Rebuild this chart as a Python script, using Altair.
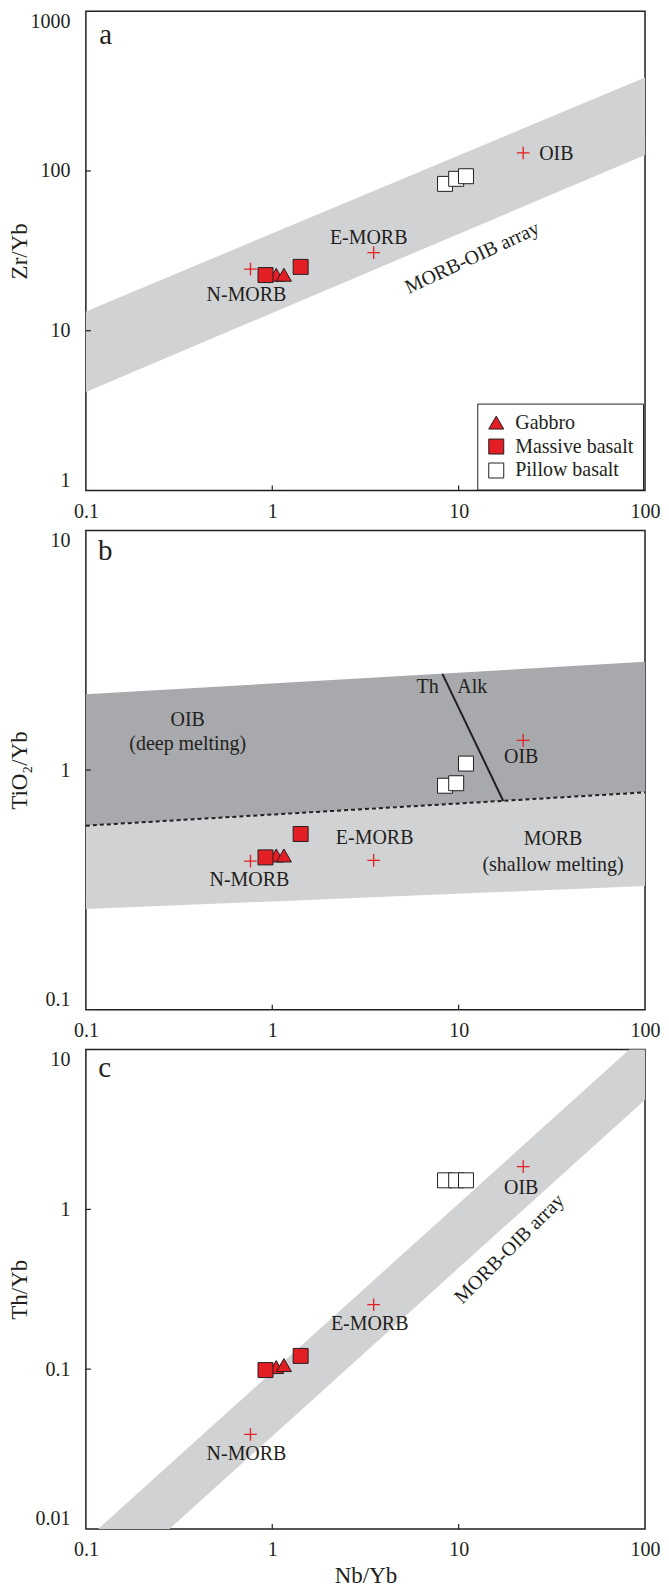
import altair as alt
import pandas as pd

FONT = "Liberation Serif"
INK = "#231f20"
RED = "#e31e24"
LIGHT = "#d1d2d4"
DARK = "#a7a9ac"
W, H = 560, 480

# ---------------- data ----------------
groups = ["Gabbro", "Massive basalt", "Pillow basalt"]
group_fill = [RED, RED, "#ffffff"]
group_shape = ["triangle-up", "square", "square"]
group_stroke = [INK, INK, INK]

sample_group = ["Gabbro", "Gabbro", "Massive basalt", "Massive basalt",
                "Pillow basalt", "Pillow basalt", "Pillow basalt"]
sample_nb = [1.05, 1.155, 0.92, 1.42, 8.45, 9.7, 10.95]
sample_zr = [22.4, 22.4, 22.3, 25.1, 83.0, 89.3, 92.7]
sample_ti = [0.44, 0.44, 0.432, 0.541, 0.86, 0.881, 1.064]
sample_th = [0.103, 0.106, 0.0986, 0.121, 1.52, 1.52, 1.52]

ref_name = ["N-MORB", "E-MORB", "OIB"]
ref_nb = [0.764, 3.50, 22.2]
ref_zr = [24.3, 30.8, 129.6]
ref_ti = [0.417, 0.42, 1.33]
ref_th = [0.039, 0.253, 1.85]

band_x = [0.1, 100]
zr_band_hi = [13.2, 385]
zr_band_lo = [4.14, 126]
ti_band_top = [2.07, 2.83]
ti_band_mid = [0.586, 0.807]
ti_band_bot = [0.263, 0.328]
thalk_nb = [8.18, 17.36]
thalk_ti = [2.52, 0.743]
th_band_x = [0.1165, 0.281, 82.4, 100]
th_band_hi = [0.01, 0.0253, 10, 10]
th_band_lo = [0.01, 0.01, 3.96, 4.85]

x_ticks = [0.1, 1, 10, 100]
zr_ticks = [1, 10, 100, 1000]
ti_ticks = [0.1, 1, 10]
th_ticks = [0.01, 0.1, 1, 10]
x_inner = [1, 10]
zr_inner = [10, 100]
ti_inner = [1]
th_inner = [0.1, 1]

ti_note_text = ["OIB", "(deep melting)", "MORB", "(shallow melting)", "Th", "Alk"]
ti_note_nb = [0.352, 0.352, 32.1, 32.1, 6.82, 11.84]
ti_note_ti = [1.625, 1.28, 0.5136, 0.401, 2.23, 2.23]

letter_text = ["a", "b", "c"]
letter_nb = [0.118, 0.116, 0.1165]
letter_val = [621, 7.52, 6.71]

zr_array = {"text": ["MORB-OIB array"], "nb": [11.84], "zr": [28.6]}
th_array = {"text": ["MORB-OIB array"], "nb": [18.75], "th": [0.5655]}

samples = pd.DataFrame({"group": sample_group, "nb": sample_nb, "zr": sample_zr,
                        "ti": sample_ti, "th": sample_th})
refs = pd.DataFrame({"name": ref_name, "nb": ref_nb, "zr": ref_zr, "ti": ref_ti, "th": ref_th})

# ---------------- helpers ----------------
xs = alt.Scale(type="log", domain=[0.1, 100], nice=False)
CROSS = "M-1,0H1M0,-1V1"


def x_axis(title=None):
    kw = dict(values=x_ticks, format="~g", grid=False, ticks=False, domain=False,
              labelFont=FONT, labelFontSize=20, labelColor=INK, labelPadding=11,
              labelFlush=False, title=title)
    if title:
        kw.update(titleFont=FONT, titleFontSize=23, titleFontWeight="normal",
                  titleColor=INK, titleY=47, titleBaseline="middle")
    return alt.Axis(**kw)


def y_axis(title, values):
    return alt.Axis(title=title, values=values, format="~g", grid=False, ticks=False,
                    domain=False, labelFont=FONT, labelFontSize=20, labelColor=INK,
                    labelPadding=16, labelFlush=True, labelFlushOffset=0,
                    titleFont=FONT, titleFontSize=23, titleFontWeight="normal",
                    titleColor=INK, titleX=-66, titleY=H / 2, titleBaseline="middle",
                    titleAngle=270)


def panel(yfield, ydomain, ytitle, yvalues, yinner, letter_idx, ref_offsets,
          show_legend, xtitle=None, extra_layers_fn=None):
    ys = alt.Scale(type="log", domain=ydomain, nice=False)
    xa = x_axis(xtitle)
    ya = y_axis(ytitle, yvalues)

    def X(f):
        return alt.X(f"{f}:Q", scale=xs, axis=xa)

    def Y(f):
        return alt.Y(f"{f}:Q", scale=ys, axis=ya)

    layers = []
    if extra_layers_fn is not None:
        layers += extra_layers_fn(X, Y)

    # inward ticks
    layers.append(alt.Chart(pd.DataFrame({"v": x_inner})).mark_rule(color=INK, strokeWidth=1.2)
                  .encode(x=X("v"), y=alt.value(H), y2=alt.value(H - 5)))
    layers.append(alt.Chart(pd.DataFrame({"v": yinner})).mark_rule(color=INK, strokeWidth=1.2)
                  .encode(y=Y("v"), x=alt.value(0), x2=alt.value(5)))

    # reference compositions (red crosses)
    layers.append(alt.Chart(refs).mark_point(shape=CROSS, size=160, filled=False,
                                             stroke=RED, strokeWidth=1.3, opacity=1)
                  .encode(x=X("nb"), y=Y(yfield)))
    for name, dx, dy, align in ref_offsets:
        layers.append(alt.Chart(refs).transform_filter(alt.datum.name == name)
                      .mark_text(font=FONT, fontSize=20, color=INK, dx=dx, dy=dy,
                                 align=align, baseline="middle")
                      .encode(x=X("nb"), y=Y(yfield), text="name:N"))

    # samples
    leg = None
    if show_legend:
        leg = alt.Legend(title=None, orient="none", legendX=392, legendY=393,
                         strokeColor=INK, fillColor="#ffffff", padding=9, rowPadding=4,
                         labelOffset=9, labelFont=FONT, labelFontSize=20, labelColor=INK,
                         symbolSize=225, symbolStrokeWidth=1)
    layers.append(alt.Chart(samples).mark_point(filled=True, size=225,
                                                strokeWidth=1, opacity=1)
                  .encode(x=X("nb"), y=Y(yfield),
                          shape=alt.Shape("group:N", scale=alt.Scale(domain=groups, range=group_shape),
                                          legend=leg),
                          fill=alt.Fill("group:N", scale=alt.Scale(domain=groups, range=group_fill),
                                        legend=leg),
                          stroke=alt.Stroke("group:N", scale=alt.Scale(domain=groups, range=group_stroke),
                                            legend=leg)))

    # panel letter
    ldf = pd.DataFrame({"t": [letter_text[letter_idx]], "nb": [letter_nb[letter_idx]],
                        yfield: [letter_val[letter_idx]]})
    layers.append(alt.Chart(ldf).mark_text(font=FONT, fontSize=29, color=INK, align="left",
                                           baseline="alphabetic")
                  .encode(x=X("nb"), y=Y(yfield), text="t:N"))

    return alt.layer(*layers).properties(width=W, height=H)


def zr_extra(X, Y):
    band = pd.DataFrame({"nb": band_x, "hi": zr_band_hi, "lo": zr_band_lo})
    arr = pd.DataFrame(zr_array)
    return [
        alt.Chart(band).mark_area(color=LIGHT, opacity=1)
        .encode(x=X("nb"), y=Y("hi"), y2="lo:Q"),
        alt.Chart(arr).mark_text(font=FONT, fontSize=20, color=INK, angle=335,
                                 align="center", baseline="middle")
        .encode(x=X("nb"), y=Y("zr"), text="text:N"),
    ]


def ti_extra(X, Y):
    band = pd.DataFrame({"nb": band_x, "top": ti_band_top, "mid": ti_band_mid,
                         "bot": ti_band_bot})
    th = pd.DataFrame({"nb": thalk_nb, "ti": thalk_ti})
    notes = pd.DataFrame({"text": ti_note_text, "nb": ti_note_nb, "ti": ti_note_ti})
    return [
        alt.Chart(band).mark_area(color=DARK, opacity=1)
        .encode(x=X("nb"), y=Y("top"), y2="mid:Q"),
        alt.Chart(band).mark_area(color=LIGHT, opacity=1)
        .encode(x=X("nb"), y=Y("mid"), y2="bot:Q"),
        alt.Chart(band).mark_line(color=INK, strokeWidth=2, strokeDash=[4, 3])
        .encode(x=X("nb"), y=Y("mid")),
        alt.Chart(th).mark_line(color=INK, strokeWidth=2)
        .encode(x=X("nb"), y=Y("ti")),
        alt.Chart(notes).mark_text(font=FONT, fontSize=20, color=INK, align="center",
                                   baseline="middle")
        .encode(x=X("nb"), y=Y("ti"), text="text:N"),
    ]


def th_extra(X, Y):
    band = pd.DataFrame({"nb": th_band_x, "hi": th_band_hi, "lo": th_band_lo})
    arr = pd.DataFrame(th_array)
    return [
        alt.Chart(band).mark_area(color=LIGHT, opacity=1)
        .encode(x=X("nb"), y=Y("hi"), y2="lo:Q"),
        alt.Chart(arr).mark_text(font=FONT, fontSize=20, color=INK, angle=315,
                                 align="center", baseline="middle")
        .encode(x=X("nb"), y=Y("th"), text="text:N"),
    ]


pa = panel("zr", [1, 1000], "Zr/Yb", zr_ticks, zr_inner, 0,
           [("N-MORB", -4, 26, "center"), ("E-MORB", -5, -15, "center"), ("OIB", 16, 1, "left")],
           True, extra_layers_fn=zr_extra)
pb = panel("ti", [0.1, 10], "TiO₂/Yb", ti_ticks, ti_inner, 1,
           [("N-MORB", -1, 19, "center"), ("E-MORB", 1, -22, "center"), ("OIB", -2, 17, "center")],
           False, extra_layers_fn=ti_extra)
pc = panel("th", [0.01, 10], "Th/Yb", th_ticks, th_inner, 2,
           [("N-MORB", -4, 20, "center"), ("E-MORB", -4, 19, "center"), ("OIB", -2, 21, "center")],
           False, xtitle="Nb/Yb", extra_layers_fn=th_extra)

chart = (
    alt.vconcat(pa, pb, pc, spacing=40, bounds="flush")
    .resolve_scale(x="independent", y="independent", shape="independent",
                   fill="independent", stroke="independent")
    .resolve_legend(shape="independent", fill="independent", stroke="independent")
    .properties(padding={"left": 0, "top": 1, "right": 0, "bottom": -3})
    .configure_view(stroke=INK, strokeWidth=1.5)
)

chart.save("out.html", embed_options={"renderer": "svg", "actions": False})
